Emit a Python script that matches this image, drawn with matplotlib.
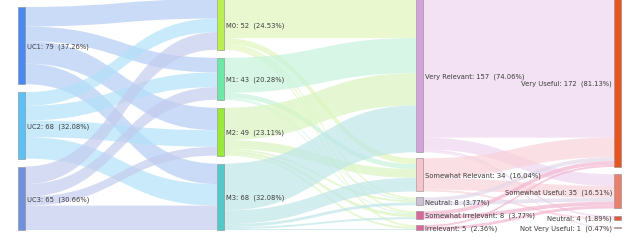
import matplotlib
matplotlib.use("Agg")
import matplotlib.pyplot as plt
from matplotlib.path import Path
from matplotlib.patches import PathPatch, Rectangle

# node names per column
uc_names = ['UC1', 'UC2', 'UC3']
m_names = ['M0', 'M1', 'M2', 'M3']
rel_names = ['Very Relevant', 'Somewhat Relevant', 'Neutral', 'Somewhat Irrelevant', 'Irrelevant']
use_names = ['Very Useful', 'Somewhat Useful', 'Neutral', 'Not Very Useful']

# flows between columns (rows = source, cols = target)
uc_to_m = [[20, 15, 23, 21],
           [14, 15, 17, 22],
           [18, 13, 9, 25]]
m_to_rel = [[40, 6, 2, 2, 2],
            [36, 5, 1, 1, 0],
            [33, 9, 2, 3, 2],
            [48, 14, 3, 2, 1]]
rel_to_use = [[142, 12, 2, 1],
              [20, 12, 2, 0],
              [4, 4, 0, 0],
              [4, 4, 0, 0],
              [2, 3, 0, 0]]

node_colors = [['#4a89f3', '#5bc1f7', '#6f90df'],
               ['#b9ef4f', '#6ee8a6', '#99e83a', '#55c9c9'],
               ['#d4a2db', '#f7c4cc', '#cdc0d6', '#d9679b', '#d8689c'],
               ['#e8531f', '#e9806b', '#e4583a', '#e88a8a']]
link_colors = [['#b4cdf6', '#b3e2f9', '#c3ccee'],
               ['#e2f6bc', '#c6f3dc', '#d9f5bf', '#bfe6e8'],
               ['#efd6ef', '#f9d2da', '#e2d8ea', '#f2b6cf', '#f2b6cf']]

names = [uc_names, m_names, rel_names, use_names]
flows = [uc_to_m, m_to_rel, rel_to_use]

# node values
vals = [[sum(r) for r in uc_to_m]]
for f in flows:
    vals.append([sum(r[j] for r in f) for j in range(len(f[0]))])
total = sum(vals[0])

W, H = 640, 251
col_x = [18, 217, 416, 614]
node_w = 7
col_top = [8, 0, 0, 0]
col_bot = [231, 231, 231, 229]
ky = (231 - 4 * 6) / total

# node positions
ypos = []
for c in range(4):
    span = col_bot[c] - col_top[c]
    n = len(vals[c])
    gap = (span - total * ky) / (n - 1)
    y = col_top[c]
    ys = []
    for v in vals[c]:
        ys.append(y)
        y += v * ky + gap
    ypos.append(ys)

fig = plt.figure(figsize=(W / 100, H / 100), dpi=100)
ax = fig.add_axes([0, 0, 1, 1])
ax.set_xlim(0, W)
ax.set_ylim(H, 0)
ax.axis('off')

# links
for c, f in enumerate(flows):
    x0 = col_x[c] + node_w
    x1 = col_x[c + 1]
    xm = (x0 + x1) / 2
    out_off = list(ypos[c])
    in_off = list(ypos[c + 1])
    # incoming offsets ordered by source
    in_start = {}
    for j in range(len(f[0])):
        for i in range(len(f)):
            in_start[(i, j)] = in_off[j]
            in_off[j] += f[i][j] * ky
    for i in range(len(f)):
        for j in range(len(f[0])):
            v = f[i][j]
            if v == 0:
                continue
            h = v * ky
            a0 = out_off[i]
            out_off[i] += h
            b0 = in_start[(i, j)]
            verts = [(x0, a0), (xm, a0), (xm, b0), (x1, b0),
                     (x1, b0 + h),
                     (xm, b0 + h), (xm, a0 + h), (x0, a0 + h),
                     (x0, a0)]
            codes = [Path.MOVETO, Path.CURVE4, Path.CURVE4, Path.CURVE4,
                     Path.LINETO,
                     Path.CURVE4, Path.CURVE4, Path.CURVE4,
                     Path.CLOSEPOLY]
            ax.add_patch(PathPatch(Path(verts, codes), facecolor=link_colors[c][i],
                                   edgecolor='none', alpha=0.7, zorder=1))

# nodes and labels
for c in range(4):
    for k, v in enumerate(vals[c]):
        y = ypos[c][k]
        h = v * ky
        ax.add_patch(Rectangle((col_x[c], y), node_w, max(h, 1), facecolor=node_colors[c][k],
                               edgecolor='#8a8a8a', linewidth=0.4, zorder=3))
        label = '{}: {}  ({:.2f}%)'.format(names[c][k], v, 100 * v / total)
        if c < 3:
            ax.text(col_x[c] + node_w + 2, y + h / 2, label, ha='left', va='center',
                    fontsize=4.85, color='#3c3c3c', zorder=4)
        else:
            ax.text(col_x[c] - 2, y + h / 2, label, ha='right', va='center',
                    fontsize=4.85, color='#3c3c3c', zorder=4)

fig.savefig('out.png', dpi=100)
